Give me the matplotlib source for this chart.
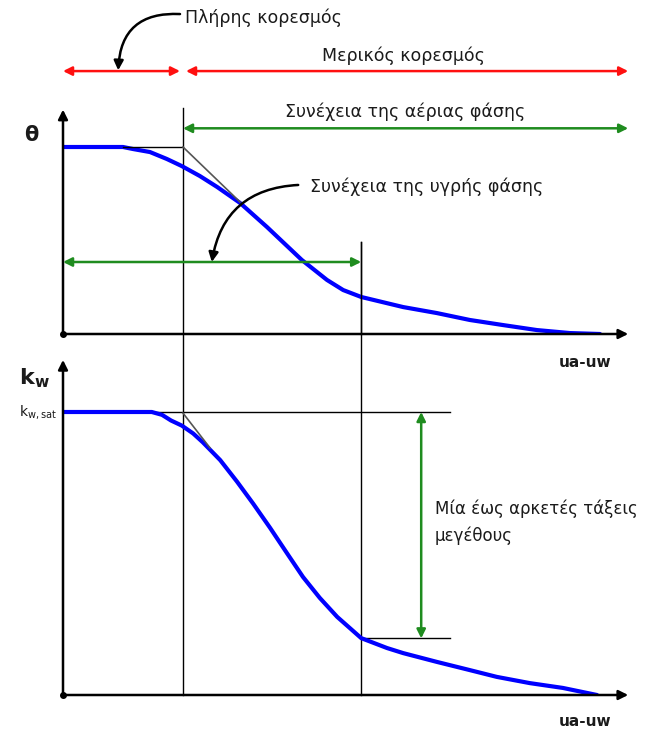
import numpy as np
import matplotlib.pyplot as plt

plt.rcParams['font.family'] = ['DejaVu Sans']

# suction axis (ua-uw) in schematic units; air entry and residual points
air_entry = 2.0
residual = 4.97

# water content curve (normalised, theta_sat = 1)
suction_theta = [0.0, 1.0, 1.17, 1.45, 1.73, 1.98, 2.28, 2.57, 2.95, 3.4, 3.98, 4.4,
                 4.67, 4.97, 5.67, 6.23, 6.78, 7.33, 7.9, 8.45, 8.95]
theta = [1.0, 1.0, 0.989, 0.973, 0.936, 0.898, 0.845, 0.786, 0.701, 0.572, 0.396, 0.289,
         0.235, 0.198, 0.144, 0.112, 0.075, 0.048, 0.021, 0.005, 0.0]

# permeability curve (normalised, kw_sat = 1)
suction_k = [0.0, 1.48, 1.65, 1.8, 1.98, 2.17, 2.33, 2.62, 2.9, 3.17, 3.45, 3.73, 4.0,
             4.28, 4.57, 4.97, 5.4, 5.67, 6.23, 6.78, 7.23, 7.78, 8.33, 8.9]
k_w = [1.0, 1.0, 0.99, 0.97, 0.952, 0.924, 0.893, 0.83, 0.754, 0.676, 0.591, 0.502, 0.417,
       0.343, 0.276, 0.201, 0.166, 0.148, 0.117, 0.088, 0.064, 0.042, 0.025, 0.0]
k_res = 0.2

txt = '#1b1b1b'
red = '#ff1010'
green = '#1f8c1f'
blue = '#0000ff'
fs = 12.5


def double_arrow(ax, p1, p2, color):
    ax.annotate('', xy=p2, xytext=p1, annotation_clip=False,
                arrowprops=dict(arrowstyle='<|-|>', color=color, lw=1.8,
                                mutation_scale=13, shrinkA=0, shrinkB=0))


def axis_arrows(ax, xmax, ymax):
    for tip in [(xmax, 0), (0, ymax)]:
        ax.annotate('', xy=tip, xytext=(0, 0), annotation_clip=False,
                    arrowprops=dict(arrowstyle='-|>', color='black', lw=1.8,
                                    mutation_scale=14, shrinkA=0, shrinkB=0))
    ax.plot(0, 0, 'o', color='black', ms=4, clip_on=False)


fig = plt.figure(figsize=(6.46, 7.33), dpi=100)
ax1 = fig.add_axes([63 / 646, 399 / 733, 570 / 646, 224.4 / 733])
ax2 = fig.add_axes([63 / 646, 38 / 733, 570 / 646, 339.6 / 733])

for ax in (ax1, ax2):
    ax.set_xlim(0, 9.5)
    ax.set_ylim(0, 1.2)
    ax.axis('off')

# --- water content panel ---
ax1.plot([air_entry, air_entry], [-1.93, 1.21], color='black', lw=1.0, clip_on=False)
ax1.plot([residual, residual], [0, 0.49], color='black', lw=1.0, clip_on=False)
ax1.plot([1.0, air_entry], [1.0, 1.0], color='black', lw=1.0, zorder=4)
ax1.plot([air_entry, 2.95], [1.0, 0.706], color='#555555', lw=1.2, zorder=4)
ax1.plot(suction_theta, theta, color=blue, lw=3, solid_capstyle='round',
         solid_joinstyle='round', zorder=3)
axis_arrows(ax1, 9.42, 1.2)

ax1.text(-0.53, 1.064, 'θ', fontsize=15, fontweight='bold', color=txt, ha='center', va='center')
ax1.text(8.7, -0.15, 'ua-uw', fontsize=11, fontweight='bold', color=txt, ha='center', va='center',
         clip_on=False)

# saturation ranges above the plot
double_arrow(ax1, (0, 1.406), (1.95, 1.406), red)
double_arrow(ax1, (2.05, 1.406), (9.42, 1.406), red)
ax1.text(5.67, 1.49, 'Μερικός κορεσμός', fontsize=fs, color=txt, ha='center', va='center')
ax1.text(2.03, 1.69, 'Πλήρης κορεσμός', fontsize=fs, color=txt, ha='left', va='center')
ax1.annotate('', xy=(0.92, 1.41), xytext=(1.95, 1.711), annotation_clip=False,
             arrowprops=dict(arrowstyle='-|>', color='black', lw=1.8, mutation_scale=14,
                             shrinkA=0, shrinkB=0, connectionstyle='arc3,rad=0.5'))

# phase continuity
double_arrow(ax1, (air_entry, 1.10), (9.42, 1.10), green)
ax1.text(5.7, 1.187, 'Συνέχεια της αέριας φάσης', fontsize=fs, color=txt, ha='center', va='center')
double_arrow(ax1, (0, 0.385), (residual, 0.385), green)
ax1.text(4.12, 0.786, 'Συνέχεια της υγρής φάσης', fontsize=fs, color=txt, ha='left', va='center')
ax1.annotate('', xy=(2.48, 0.385), xytext=(3.92, 0.797), annotation_clip=False,
             arrowprops=dict(arrowstyle='-|>', color='black', lw=1.8, mutation_scale=14,
                             shrinkA=0, shrinkB=0, connectionstyle='arc3,rad=0.4'))

# --- permeability panel ---
ax2.plot([residual, residual], [0, 1.60], color='black', lw=1.0, clip_on=False)
ax2.plot([1.48, 6.45], [1.0, 1.0], color='black', lw=1.0, zorder=2)
ax2.plot([residual, 6.45], [k_res, k_res], color='black', lw=1.0, zorder=2)
ax2.plot([air_entry, 2.45], [0.996, 0.873], color='#555555', lw=1.2, zorder=4)
ax2.plot(suction_k, k_w, color=blue, lw=3, solid_capstyle='round',
         solid_joinstyle='round', zorder=3)
axis_arrows(ax2, 9.42, 1.184)

ax2.text(-0.47, 1.12, r'k$_\mathregular{w}$', fontsize=16, fontweight='bold', color=txt,
         ha='center', va='center')
ax2.text(-0.1, 1.0, r'k$_\mathregular{w,sat}$', fontsize=10, color=txt, ha='right', va='center')
ax2.text(8.7, -0.095, 'ua-uw', fontsize=11, fontweight='bold', color=txt, ha='center', va='center',
         clip_on=False)

double_arrow(ax2, (5.97, 1.0), (5.97, k_res), green)
ax2.text(6.2, 0.611, 'Μία έως αρκετές τάξεις\nμεγέθους', fontsize=12, color=txt,
         ha='left', va='center', linespacing=1.55)

fig.savefig('out.png', dpi=100)
